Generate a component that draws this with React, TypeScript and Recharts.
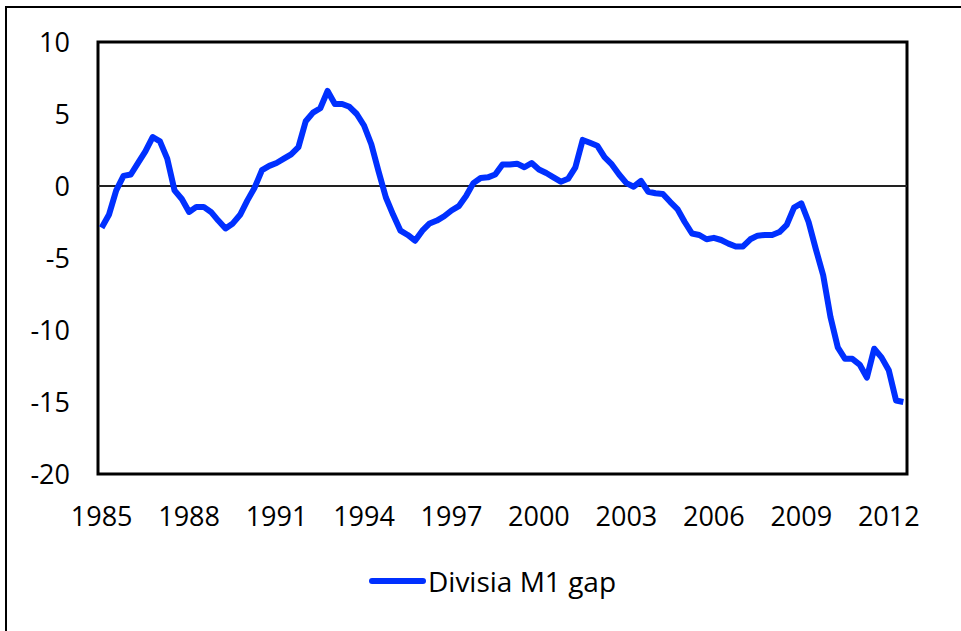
import { LineChart, Line, XAxis, YAxis, ReferenceLine, ReferenceArea, Legend } from 'recharts';

// quarterly gap, 1985Q1 .. 2012Q3
const gapValues = [
    -2.9, -2.0, -0.3, 0.7, 0.8, 1.6, 2.4, 3.4, 3.1, 1.9,
    -0.3, -0.9, -1.8, -1.45, -1.45, -1.8, -2.4, -2.95, -2.6, -2.0,
    -1.0, -0.1, 1.1, 1.4, 1.6, 1.9, 2.2, 2.7, 4.5, 5.1,
    5.4, 6.6, 5.7, 5.7, 5.5, 5.0, 4.2, 2.9, 1.0, -0.8,
    -2.0, -3.1, -3.4, -3.8, -3.1, -2.6, -2.4, -2.1, -1.7, -1.4,
    -0.7, 0.2, 0.55, 0.6, 0.8, 1.5, 1.5, 1.55, 1.3, 1.6,
    1.15, 0.9, 0.6, 0.3, 0.5, 1.3, 3.2, 3.0, 2.8, 2.0,
    1.5, 0.8, 0.2, -0.05, 0.35, -0.4, -0.5, -0.55, -1.1, -1.6,
    -2.5, -3.3, -3.4, -3.7, -3.6, -3.75, -4.0, -4.2, -4.2, -3.7,
    -3.45, -3.4, -3.4, -3.2, -2.7, -1.5, -1.2, -2.5, -4.4, -6.2,
    -9.1, -11.2, -12.0, -12.0, -12.4, -13.3, -11.3, -11.9, -12.8, -14.9,
    -15.0,
];
const startYear = 1985;
const tickYears = [1985, 1988, 1991, 1994, 1997, 2000, 2003, 2006, 2009, 2012];
const yTicks = [-20, -15, -10, -5, 0, 5, 10];
const seriesName = 'Divisia M1 gap';
const lineColor = '#0030ff';

const chartData = gapValues.map((v, i) => ({ i, gap: v }));
const xTicks = tickYears.map((y) => (y - startYear) * 4);

const font = '"Open Sans", sans-serif';

function LegendContent() {
    return (
        <div style={{ display: 'flex', alignItems: 'center', fontFamily: font, fontSize: 28, color: '#000', lineHeight: '34px' }}>
            <div style={{ width: 57, height: 6, borderRadius: 3, background: lineColor, marginRight: 2 }} />
            <span>{seriesName}</span>
        </div>
    );
}

export default function App() {
    return (
        <div style={{ position: 'absolute', left: 0, top: 0, width: 961, height: 631, background: '#fff', overflow: 'hidden' }}>
            <div style={{ position: 'absolute', left: 5, top: 6, width: 1000, height: 700, borderTop: '2px solid #000', borderLeft: '2px solid #000' }} />
            <LineChart
                width={961}
                height={631}
                data={chartData}
                margin={{ top: 42, right: 54, bottom: 81, left: 0 }}
                style={{ fontFamily: font }}
            >
                <XAxis
                    dataKey="i"
                    type="number"
                    domain={[-0.5, gapValues.length - 0.5]}
                    ticks={xTicks}
                    tickFormatter={(v: number) => String(startYear + v / 4)}
                    tick={{ fill: '#000', fontSize: 27 }}
                    tickSize={0}
                    tickMargin={33}
                    axisLine={false}
                    height={42}
                />
                <YAxis
                    domain={[-20, 10]}
                    ticks={yTicks}
                    tick={{ fill: '#000', fontSize: 27 }}
                    tickSize={0}
                    tickMargin={28}
                    axisLine={false}
                    width={98}
                />
                <ReferenceArea x1={-0.5} x2={gapValues.length - 0.5} y1={-20} y2={10} fill="none" stroke="#000" strokeWidth={3} />
                <ReferenceLine y={0} stroke="#222" strokeWidth={2} />
                <Line
                    type="linear"
                    dataKey="gap"
                    name={seriesName}
                    stroke={lineColor}
                    strokeWidth={6}
                    strokeLinejoin="round"
                    dot={false}
                    isAnimationActive={false}
                />
                <Legend content={<LegendContent />} wrapperStyle={{ left: 369, top: 564, width: 'auto' }} />
            </LineChart>
        </div>
    );
}
